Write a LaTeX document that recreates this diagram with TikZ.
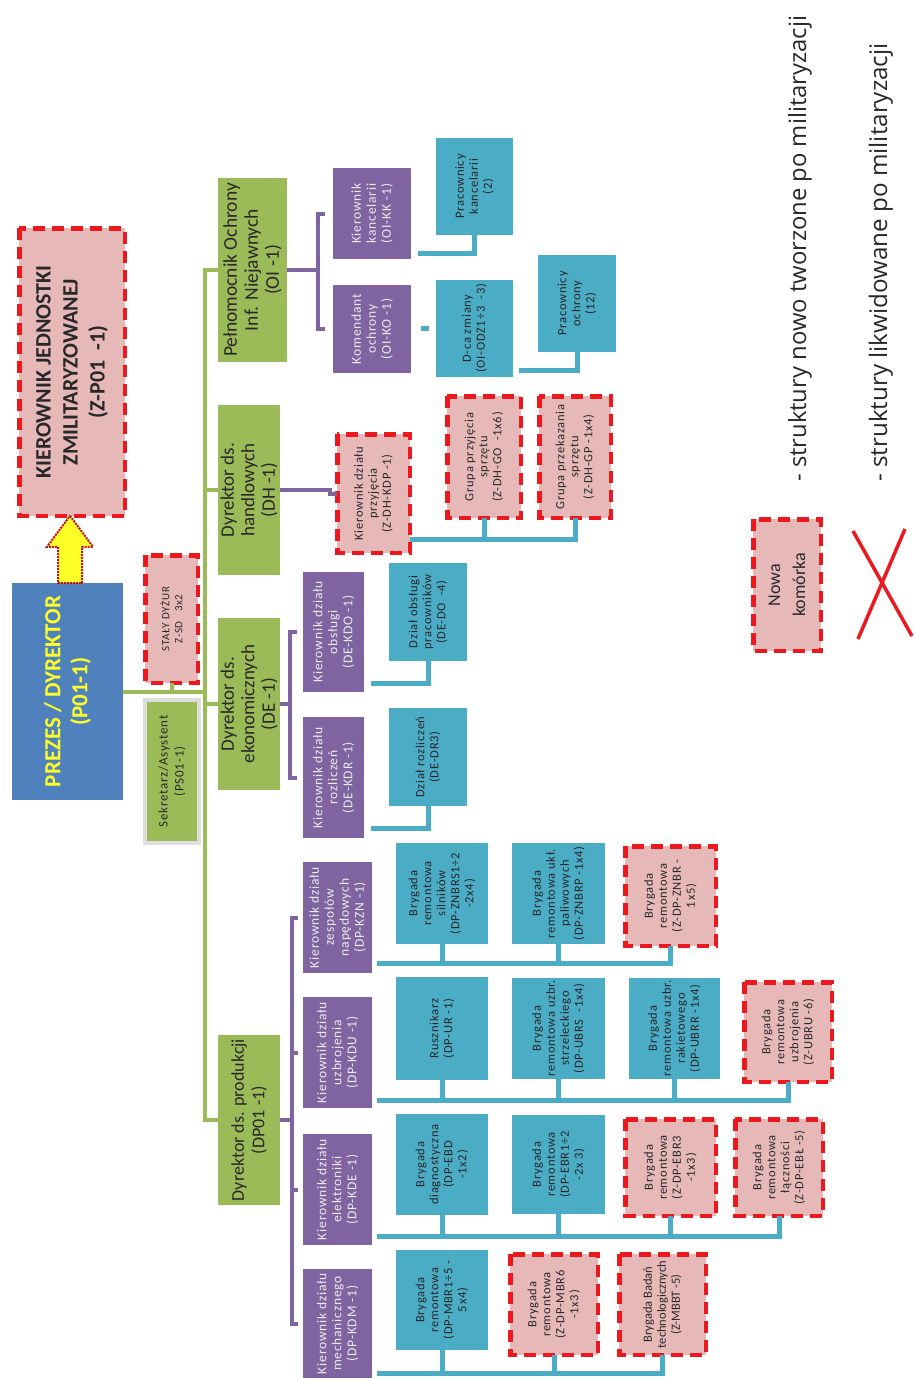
\documentclass[tikz,border=0pt]{standalone}
\usepackage{fontspec}
\setmainfont{Carlito}
\newfontfamily\bx[LetterSpace=6]{Carlito}
\newfontfamily\legfont{Open Sans}
\usetikzlibrary{calc}
\definecolor{gr}{RGB}{155,187,89}
\definecolor{pu}{RGB}{128,100,162}
\definecolor{tl}{RGB}{75,172,198}
\definecolor{pk}{RGB}{230,185,184}
\definecolor{rd}{RGB}{235,25,30}
\definecolor{bl}{RGB}{79,129,189}
\definecolor{yl}{RGB}{255,255,40}
\definecolor{sgray}{RGB}{222,222,222}
\definecolor{txt}{RGB}{40,40,40}
\begin{document}
\begin{tikzpicture}[x=1pt,y=-1pt,
  box/.style={rotate=90, align=center, inner sep=1pt, outer sep=0pt, font=\bx\fontsize{12.5}{14}\selectfont},
  sz/.style 2 args={minimum height=#1, minimum width=#2},
  dirbox/.style={box, fill=gr, text=txt, font=\fontsize{19}{20.5}\selectfont},
  purbox/.style={box, fill=pu, text=white!92!black, font=\bx\fontsize{13.5}{15}\selectfont},
  tealbox/.style={box, fill=tl, text=black!85},
  newbox/.style={box, fill=pk, draw=rd, line width=4.5pt, dash pattern=on 12pt off 7pt, text=txt},
  gline/.style={draw=gr, line width=4pt},
  pline/.style={draw=pu, line width=4pt},
  tline/.style={draw=tl, line width=5pt},
  arrowst/.style={draw=rd!80!black, densely dotted, line width=2pt, fill=yl}
]
\useasboundingbox (0,0) rectangle (915,1379);
\fill[white] (0,0) rectangle (915,1379);

% top level
\node[newbox, sz={105.5}{287.5}, font=\bfseries\fontsize{22}{27}\selectfont] (kj) at (72,372)
  {KIEROWNIK JEDNOSTKI\\ZMILITARYZOWANEJ\\(Z-P01~~-1)};
\node[box, fill=bl, text=yl, sz={111}{217}, font=\bfseries\fontsize{23}{27}\selectfont] (ceo) at (67.5,691.5)
  {PREZES / DYREKTOR\\(P01-1)};
\node[newbox, sz={52.5}{127.5}, font=\bx\fontsize{11}{13}\selectfont] (sd) at (171.5,619)
  {STAŁY DYŻUR\\Z-SD~~~3x2};
\node[box, fill=gr, draw=sgray, line width=4pt, text=txt, sz={54}{143}, font=\bx\fontsize{13}{16}\selectfont] (sek) at (172,771.5)
  {Sekretarz/Asystent\\(PS01-1)};

% directors
\node[dirbox, sz={69}{184}, font=\fontsize{19.5}{21}\selectfont] (pel) at (252.5,270) {Pełnomocnik Ochrony\\Inf. Niejawnych\\(OI -1)};
\node[dirbox, sz={62}{170}] (dh) at (249,490) {Dyrektor ds.\\handlowych\\(DH -1)};
\node[dirbox, sz={62}{172}] (de) at (249,704) {Dyrektor ds.\\ekonomicznych\\(DE -1)};
\node[dirbox, sz={62}{170}, font=\fontsize{18}{20.5}\selectfont] (dp) at (249,1120) {Dyrektor ds. produkcji\\(DP01 -1)};

% OI
\node[purbox, sz={78}{91}] (kk) at (372,213.5) {Kierownik\\kancelarii\\(OI-KK -1)};
\node[purbox, sz={78}{88}] (ko) at (372,329) {Komendant\\ochrony\\(OI-KO -1)};
\node[tealbox, sz={77}{97}] (pk) at (474.5,186.5) {Pracownicy\\kancelarii\\(2)};
\node[tealbox, sz={77}{97}] (dcz) at (474.5,328.5) {D-ca zmiany\\(OI-ODZ1÷3~~-3)};
\node[tealbox, sz={78}{97}] (po) at (577,303.5) {Pracownicy\\ochrony\\(12)};

% DH
\node[newbox, sz={72.5}{118.5}] (kdp) at (373.5,493.5) {Kierownik działu\\przyjęcia\\(Z-DH-KDP -1)};
\node[newbox, sz={73.5}{121.5}] (gp) at (484,457) {Grupa przyjęcia\\sprzętu\\(Z-DH-GO~~-1x6)};
\node[newbox, sz={71.5}{121.5}] (gk) at (575,457) {Grupa przekazania\\sprzętu\\(Z-DH-GP -1x4)};

% DE
\node[purbox, sz={61}{120}] (dkdo) at (333.5,632) {Kierownik działu\\obsługi\\(DE-KDO -1)};
\node[purbox, sz={61}{121}] (dkdr) at (333.5,777.5) {Kierownik działu\\rozliczeń\\(DE-KDR -1)};
\node[tealbox, sz={78}{98}] (dob) at (428,612) {Dział obsługi\\pracowników\\(DE-DO~~-4)};
\node[tealbox, sz={78}{98}] (dro) at (428,757) {Dział rozliczeń\\(DE-DR3)};

% DP
\node[purbox, sz={69}{111}] (kzn) at (337.5,917.5) {Kierownik działu\\zespołów\\napędowych\\(DP-KZN -1)};
\node[purbox, sz={69}{111}] (kdu) at (337.5,1052.5) {Kierownik działu\\uzbrojenia\\(DP-KDU -1)};
\node[purbox, sz={69}{111}] (kde) at (337.5,1189.5) {Kierownik działu\\elektroniki\\(DP-KDE -1)};
\node[purbox, sz={69}{109}] (kdm) at (337.5,1323.5) {Kierownik działu\\mechanicznego\\(DP-KDM -1)};

\node[tealbox, sz={92}{101}] (z1) at (442,893.5) {Brygada\\remontowa\\silników\\(DP-ZNBRS1÷2\\-2x4)};
\node[tealbox, sz={93}{101}] (z2) at (558.5,893.5) {Brygada\\remontowa ukł.\\paliwowych\\(DP-ZNBRP -1x4)};
\node[newbox, sz={90.5}{99.5}] (z3) at (670.5,896) {Brygada\\remontowa\\(Z-DP-ZNBR -\\1x5)};

\node[tealbox, sz={92}{103}] (u1) at (442,1028.5) {Rusznikarz\\(DP-UR -1)};
\node[tealbox, sz={93}{101}] (u2) at (558.5,1028.5) {Brygada\\remontowa uzbr.\\strzeleckiego\\(DP-UBRS~~-1x4)};
\node[tealbox, sz={91}{101}] (u3) at (674.5,1028.5) {Brygada\\remontowa uzbr.\\rakietowego\\(DP-UBRR -1x4)};
\node[newbox, sz={87.5}{99.5}] (u4) at (788,1032) {Brygada\\remontowa\\uzbrojenia\\(Z-UBRU -6)};

\node[tealbox, sz={92}{101}] (e1) at (442,1164.5) {Brygada\\diagnostyczna\\(DP-EBD\\-1x2)};
\node[tealbox, sz={93}{99}] (e2) at (558.5,1164.5) {Brygada\\remontowa\\(DP-EBR1÷2\\-2x 3)};
\node[newbox, sz={90.5}{96.5}] (e3) at (670.5,1167.5) {Brygada\\remontowa\\(Z-DP-EBR3\\-1x3)};
\node[newbox, sz={87.5}{96.5}] (e4) at (779,1167.5) {Brygada\\remontowa\\łączności\\(Z-DP-EBŁ -5)};

\node[tealbox, sz={92}{100}] (m1) at (442,1300) {Brygada\\remontowa\\(DP-MBR1÷5 -\\5x4)};
\node[newbox, sz={87.5}{100.5}] (m2) at (554,1304.5) {Brygada\\remontowa\\(Z-DP-MBR6\\-1x3)};
\node[newbox, sz={86.5}{100.5}, font=\fontsize{12.5}{14}\selectfont] (m3) at (662.5,1304.5) {Brygada Badań\\technologicznych\\(Z-MBBT -5)};

% legend
\node[newbox, sz={67.5}{131.5}, font=\fontsize{18}{25}\selectfont] (nk) at (787,585) {Nowa\\komórka};
\draw[rd, line width=3.5pt] (853,531) -- (912,636);
\draw[rd, line width=3.5pt] (905,529) -- (858,639);
\node[rotate=90, anchor=base west, inner sep=0pt, text=txt, font=\legfont\fontsize{23.8}{28}\selectfont] (l1) at (806,482)
  {- struktury nowo tworzone po militaryzacji};
\node[rotate=90, anchor=base west, inner sep=0pt, text=txt, font=\legfont\fontsize{24.2}{28}\selectfont] (l2) at (887,482)
  {- struktury likwidowane po militaryzacji};

% arrow CEO -> KJ
\coordinate (tip) at ($(kj.west)+(-2,0)$);
\draw[arrowst] (tip) -- ($(tip)+(23,31)$) -- ($(tip)+(12,31)$) -- ($(tip |- ceo.east)+(12,0)$)
  -- ($(tip |- ceo.east)+(-12,0)$) -- ($(tip)+(-12,31)$) -- ($(tip)+(-23,31)$) -- cycle;

% green connectors
\coordinate (tb) at (205,1120);
\draw[gline] (pel.north) -| (tb) -- (dp.north);
\draw[gline] (dh.north) -- (dh.north -| tb);
\draw[gline] (de.north) -- (de.north -| tb);
\draw[gline] (ceo.south) -- (ceo.south -| tb);
\draw[gline] (sd.west) -- (sd.west |- ceo.south);

% purple connectors
\coordinate (ob) at ($(kk.north)+(-15,0)$);
\draw[pline] (pel.south) -- (pel.south -| ob);
\draw[pline] ($(kk.north)+(-8,0)$) -- (ob) -- (ob |- ko.north) -- ($(ko.north)+(-8,0)$);
\draw[pline] (dh.south) -- ++(50,0) |- (kdp.north);
\coordinate (eb) at ($(dkdo.north)+(-13,0)$);
\draw[pline] (de.south) -- (de.south -| eb);
\draw[pline] ($(dkdo.north)+(-6,0)$) -- (eb) -- (eb |- dkdr.north) -- ($(dkdr.north)+(-6,0)$);
\coordinate (pb) at ($(kzn.north)+(-11,0)$);
\draw[pline] (dp.south) -- (dp.south -| pb);
\draw[pline] ($(kzn.north)+(-5,0)$) -- (pb) -- (pb |- kdm.north) -- ($(kdm.north)+(-5,0)$);
\draw[pline] (pb |- kdu.north) -- ($(kdu.north)+(-5,0)$);
\draw[pline] (pb |- kde.north) -- ($(kde.north)+(-5,0)$);

% teal connectors
\draw[tline] (pk.west) -- ++(0,18) -- ++(-57,0);
\draw[tline] ($(dcz.north)+(-7,0)$) -- ++(-8,0);
\draw[tline] (po.west) -- ++(0,18) -- ++(-58,0);
\coordinate (hb) at ($(kdp.south)+(0,46)$);
\draw[tline] (hb) -| (gk.west);
\draw[tline] (gp.west) -- (gp.west |- hb);
\draw[tline] (dob.west) -- ++(0,22) -- ++(-57,0);
\draw[tline] (dro.west) -- ++(0,22) -- ++(-57,0);

\coordinate (r1) at ($(kzn.south)+(5,45.5)$);
\draw[tline] (r1) -| (z3.west);
\draw[tline] (z1.west) -- (z1.west |- r1);
\draw[tline] (z2.west) -- (z2.west |- r1);
\coordinate (r2) at ($(kdu.south)+(5,47.5)$);
\draw[tline] (r2) -| (u4.west);
\draw[tline] (u1.west) -- (u1.west |- r2);
\draw[tline] (u2.west) -- (u2.west |- r2);
\draw[tline] (u3.west) -- (u3.west |- r2);
\coordinate (r3) at ($(kde.south)+(5,46.5)$);
\draw[tline] (r3) -| (e4.west);
\draw[tline] (e1.west) -- (e1.west |- r3);
\draw[tline] (e2.west) -- (e2.west |- r3);
\draw[tline] (e3.west) -- (e3.west |- r3);
\coordinate (r4) at ($(kdm.south)+(5,49.5)$);
\draw[tline] (r4) -| (m3.west);
\draw[tline] (m1.west) -- (m1.west |- r4);
\draw[tline] (m2.west) -- (m2.west |- r4);
\end{tikzpicture}
\end{document}
